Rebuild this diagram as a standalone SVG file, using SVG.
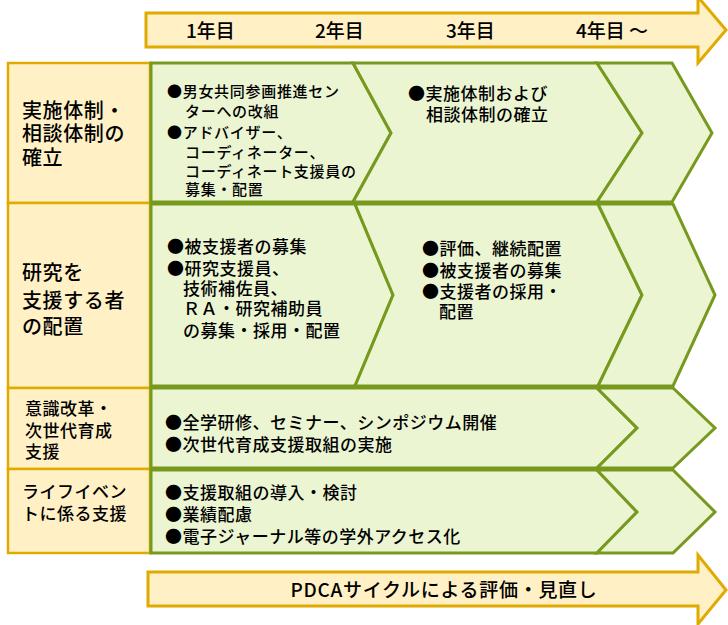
<svg xmlns="http://www.w3.org/2000/svg" width="728" height="625" viewBox="0 0 728 625">
<style>
.arrow{fill:#FFF0C6;stroke:#E0AA00;stroke-width:3;stroke-linejoin:miter}
.cat{fill:#FFF0C6;stroke:#E0AA00;stroke-width:2.5}
.chev{fill:#EBF5D2;stroke:#77991E;stroke-width:3;stroke-linejoin:miter}
text{font-family:"Noto Sans CJK JP","Noto Sans",sans-serif;fill:#000;font-weight:500}
.big{font-size:20px;letter-spacing:0.6px}
.mid{font-size:17px;letter-spacing:0.5px}
.sm{font-size:15px;letter-spacing:0.7px}
.yr{font-size:19px}
.pd{font-size:19px;letter-spacing:0.7px}
</style>
<rect width="728" height="625" fill="#fff"/>

<g id="timeline">
<polygon class="arrow" points="146,13 698,13 698,-3 726,30 698,63 698,47 146,47"/>
<text class="yr" x="186" y="38">1年目</text>
<text class="yr" x="315" y="38">2年目</text>
<text class="yr" x="446" y="38">3年目</text>
<text class="yr" x="576" y="38">4年目 ～</text>
</g>

<g id="cat1"><rect class="cat" x="8" y="63" width="142" height="140"/>
<text class="big"><tspan x="22" y="118">実施体制・</tspan><tspan x="22" y="141">相談体制の</tspan><tspan x="22" y="165">確立</tspan></text></g>
<g id="cat2"><rect class="cat" x="8" y="203" width="142" height="185"/>
<text class="big"><tspan x="22" y="280">研究を</tspan><tspan x="22" y="308">支援する者</tspan><tspan x="22" y="334">の配置</tspan></text></g>
<g id="cat3"><rect class="cat" x="8" y="388" width="142" height="81"/>
<text class="mid"><tspan x="25" y="415">意識改革・</tspan><tspan x="25" y="437">次世代育成</tspan><tspan x="25" y="458">支援</tspan></text></g>
<g id="cat4"><rect class="cat" x="8" y="469" width="142" height="84"/>
<text class="mid"><tspan x="22" y="498">ライフイベン</tspan><tspan x="22" y="520">トに係る支援</tspan></text></g>

<g id="r1c1"><polygon class="chev" points="151,63 353,63 391,133 353,202 151,202"/>
<text class="sm"><tspan x="167" y="97">●男女共同参画推進セン</tspan><tspan x="185" y="117">ターへの改組</tspan><tspan x="167" y="138">●アドバイザー、</tspan><tspan x="185" y="158">コーディネーター、</tspan><tspan x="185" y="177">コーディネート支援員の</tspan><tspan x="185" y="195">募集・配置</tspan></text></g>
<g id="r1c2"><polygon class="chev" points="353,63 597,63 642,133 597,202 353,202 391,133"/>
<text class="mid"><tspan x="408" y="100">●実施体制および</tspan><tspan x="426" y="121">相談体制の確立</tspan></text></g>
<g id="r1c3"><polygon class="chev" points="597,63 672,63 712,133 672,202 597,202 642,133"/></g>

<g id="r2c1"><polygon class="chev" points="151,204 355,204 393,295 355,386 151,386"/>
<text class="mid"><tspan x="167" y="253">●被支援者の募集</tspan><tspan x="167" y="275">●研究支援員、</tspan><tspan x="183" y="295">技術補佐員、</tspan><tspan x="183" y="315">ＲＡ・研究補助員</tspan><tspan x="183" y="337">の募集・採用・配置</tspan></text></g>
<g id="r2c2"><polygon class="chev" points="355,204 598,204 642,295 598,386 355,386 393,295"/>
<text class="mid"><tspan x="422" y="255">●評価、継続配置</tspan><tspan x="422" y="277">●被支援者の募集</tspan><tspan x="422" y="298">●支援者の採用・</tspan><tspan x="439" y="318">配置</tspan></text></g>
<g id="r2c3"><polygon class="chev" points="598,204 673,204 715,295 673,386 598,386 642,295"/></g>

<g id="r3c1"><polygon class="chev" points="151,388 597,388 637,428 597,468 151,468"/>
<text class="mid"><tspan x="165" y="429">●全学研修、セミナー、シンポジウム開催</tspan><tspan x="165" y="451">●次世代育成支援取組の実施</tspan></text></g>
<g id="r3c2"><polygon class="chev" points="597,388 673,388 715,428 673,468 597,468 637,428"/></g>

<g id="r4c1"><polygon class="chev" points="151,470 597,470 637,512 597,553 151,553"/>
<text class="mid"><tspan x="165" y="499">●支援取組の導入・検討</tspan><tspan x="165" y="521">●業績配慮</tspan><tspan x="165" y="543">●電子ジャーナル等の学外アクセス化</tspan></text></g>
<g id="r4c2"><polygon class="chev" points="597,470 673,470 715,512 673,553 597,553 637,512"/></g>

<g id="pdca">
<polygon class="arrow" points="148,572 698,572 698,555 726,590 698,624 698,606 148,606"/>
<text class="pd" x="444" y="597" text-anchor="middle">PDCAサイクルによる評価・見直し</text>
</g>
<g id="connectors"/>
</svg>
